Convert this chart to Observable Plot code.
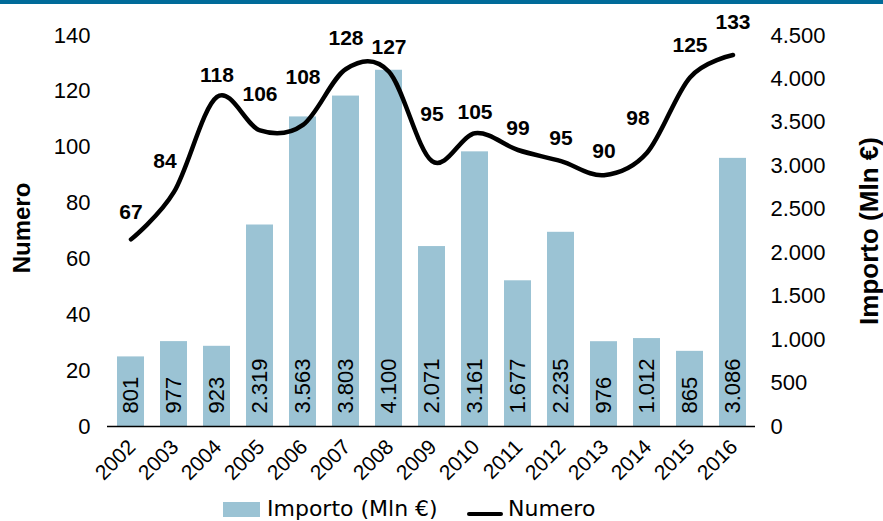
<!DOCTYPE html>
<html>
<head>
<meta charset="utf-8">
<script src="https://cdn.jsdelivr.net/npm/d3@7"></script>
<script src="https://cdn.jsdelivr.net/npm/@observablehq/plot@0.6"></script>
<style>
  body { margin: 0; background: #fff; width: 883px; height: 521px; overflow: hidden; position: relative; font-family: "Liberation Sans", Arial, sans-serif; }
  #topbar { position: absolute; left: 0; top: 0; width: 883px; height: 4px; background: #006b99; z-index: 2; }
  #chart { position: absolute; left: 0; top: 0; }
  .lg { position: absolute; }
  .lgtext { font-family: "DejaVu Sans", sans-serif; font-size: 22px; line-height: 22px; color: #000; white-space: nowrap; }
</style>
</head>
<body>
<div id="topbar"></div>
<div id="chart"></div>
<div id="legend">
  <div class="lg" style="left:223px;top:502px;width:37px;height:15px;background:#9bc3d4"></div>
  <div class="lg lgtext" style="left:267px;top:498px">Importo (Mln €)</div>
  <div class="lg" style="left:467px;top:512px;width:36px;height:4px;background:#000;border-radius:2px"></div>
  <div class="lg lgtext" style="left:508px;top:498px">Numero</div>
</div>
<script>
// ---- data ----
const years = ["2002","2003","2004","2005","2006","2007","2008","2009","2010","2011","2012","2013","2014","2015","2016"];
const importo = [801, 977, 923, 2319, 3563, 3803, 4100, 2071, 3161, 1677, 2235, 976, 1012, 865, 3086];
const numero = [67, 84, 118, 106, 108, 128, 127, 95, 105, 99, 95, 90, 98, 125, 133];
const numeroTicks = [0, 20, 40, 60, 80, 100, 120, 140];
const importoTicks = [0, 500, 1000, 1500, 2000, 2500, 3000, 3500, 4000, 4500];

// ---- label placement offsets (px, style only) ----
const labelDy = [-27, -31, -22, -36, -48, -31, -25, -47, -21, -22, -23, -24, -35, -32, -33];
const labelDx = [0, -9, 0, 0, 0, 0, 0, 0, 0, 0, 0, 0, -9, 0, 0];

const numeroMax = 140, importoMax = 4500;
const ratio = importoMax / numeroMax;
const itFmt = d3.formatLocale({decimal: ",", thousands: ".", grouping: [3], currency: ["", "€"]}).format(",d");

const rows = years.map((y, i) => ({year: y, importo: importo[i], numero: numero[i], dy: labelDy[i], dx: labelDx[i]}));

const barColor = "#9bc3d4";
const FF = "'Liberation Sans', Arial, sans-serif";

const chart = Plot.plot({
  width: 883,
  height: 490,
  marginTop: 35,
  marginBottom: 64,
  marginLeft: 107,
  marginRight: 128,
  style: {fontFamily: FF, fontSize: "22px", color: "#000", background: "transparent"},
  x: {type: "band", domain: years, paddingInner: 0.375, paddingOuter: 0.1875, axis: null},
  y: {domain: [0, numeroMax], axis: null},
  marks: [
    Plot.barY(rows, {x: "year", y: d => d.importo / ratio, fill: barColor}),
    Plot.text(rows, {x: "year", frameAnchor: "bottom", dy: -13, text: d => itFmt(d.importo), rotate: -90, textAnchor: "start", lineAnchor: "middle", fontSize: 22, fontFamily: FF, fill: "#000"}),
    Plot.ruleY([0], {stroke: "#000", strokeWidth: 1.6}),
    Plot.line(rows, {x: "year", y: "numero", curve: "cardinal", stroke: "#000", strokeWidth: 4.5, strokeLinecap: "round", strokeLinejoin: "round"}),
    ...rows.map(r => Plot.text([r], {x: "year", y: "numero", text: d => String(d.numero), dy: r.dy, dx: r.dx, lineAnchor: "middle", fontWeight: "bold", fontSize: 21, fontFamily: FF, fill: "#000"})),
    Plot.axisY({anchor: "left", ticks: numeroTicks, tickSize: 0, tickPadding: 17, label: null, fontSize: 22, fontFamily: FF}),
    Plot.axisY({anchor: "right", ticks: importoTicks.map(v => v / ratio), tickSize: 0, tickPadding: 15, tickFormat: d => itFmt(Math.round(d * ratio)), label: null, fontSize: 22, fontFamily: FF}),
    Plot.text(years, {x: d => d, frameAnchor: "bottom", dy: 17, dx: 1, text: d => d, rotate: -45, textAnchor: "end", lineAnchor: "middle", fontSize: 21, fontFamily: FF, fill: "#000"}),
    Plot.text(["Numero"], {frameAnchor: "left", dx: -85, dy: -3, rotate: -90, textAnchor: "middle", fontWeight: "bold", fontSize: 24, fontFamily: FF, fill: "#000"}),
    Plot.text(["Importo (Mln €)"], {frameAnchor: "right", dx: 114, dy: 0, rotate: -90, textAnchor: "middle", fontWeight: "bold", fontSize: 26, fontFamily: FF, fill: "#000"})
  ]
});
document.getElementById("chart").appendChild(chart);
</script>
</body>
</html>
